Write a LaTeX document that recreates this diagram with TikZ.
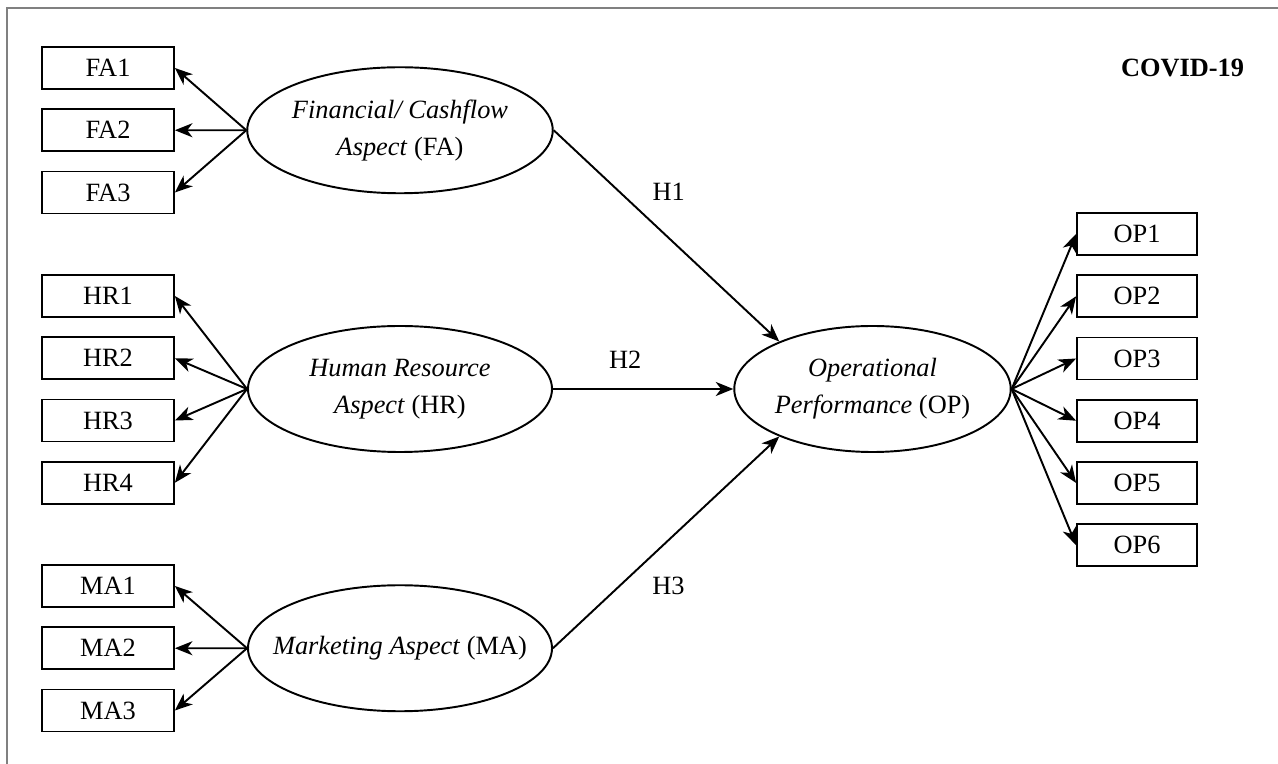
\documentclass[tikz,border=0pt]{standalone}
\usepackage{fontspec}
\setmainfont{Liberation Serif}
\usetikzlibrary{arrows.meta,positioning,shapes.geometric}

\begin{document}
\begin{tikzpicture}[>={Stealth[length=10pt,width=8pt,inset=3pt]},node distance=1.245cm,on grid,
	font=\fontsize{15}{21}\selectfont,
	ind/.style={draw,line width=1pt,minimum width=2.64cm,minimum height=0.84cm,inner sep=0pt},
	lat/.style={draw,ellipse,line width=1.1pt,minimum width=6.08cm,minimum height=2.52cm,inner sep=0pt,align=center},
	every edge/.style={draw,line width=1.1pt}]
	\useasboundingbox (0,0) rectangle (25.56,-15.28);
	\draw[gray,line width=0.9pt] (0.14,-15.28) -- (0.14,-0.16) -- (25.56,-0.16);

	\node[ind] (FA1) at (2.16,-1.36) {FA1};
	\node[ind] (FA2) [below=of FA1] {FA2};
	\node[ind] (FA3) [below=of FA2] {FA3};
	\node[lat] (FA) at (8.0,-2.605) {\textit{Financial/ Cashflow}\\\textit{Aspect} (FA)};

	\node[ind] (HR1) at (2.16,-5.92) {HR1};
	\node[ind] (HR2) [below=of HR1] {HR2};
	\node[ind] (HR3) [below=of HR2] {HR3};
	\node[ind] (HR4) [below=of HR3] {HR4};
	\node[lat] (HR) at (8.0,-7.78) {\textit{Human Resource}\\\textit{Aspect} (HR)};

	\node[ind] (MA1) at (2.16,-11.72) {MA1};
	\node[ind] (MA2) [below=of MA1] {MA2};
	\node[ind] (MA3) [below=of MA2] {MA3};
	\node[lat,inner xsep=-0.4cm] (MA) at (8.0,-12.965) {\textit{Marketing Aspect} (MA)};

	\node[lat,minimum width=5.5cm] (OP) at (17.45,-7.78) {\textit{Operational}\\\textit{Performance} (OP)};
	\node[ind,minimum width=2.4cm] (OP1) at (22.74,-4.68) {OP1};
	\node[ind,minimum width=2.4cm] (OP2) [below=of OP1] {OP2};
	\node[ind,minimum width=2.4cm] (OP3) [below=of OP2] {OP3};
	\node[ind,minimum width=2.4cm] (OP4) [below=of OP3] {OP4};
	\node[ind,minimum width=2.4cm] (OP5) [below=of OP4] {OP5};
	\node[ind,minimum width=2.4cm] (OP6) [below=of OP5] {OP6};

	\node[font=\fontsize{15}{18}\bfseries] (covid) at (23.65,-1.36) {COVID-19};

	\path[->]
	(FA.west) 	edge (FA1.east)
				edge (FA2.east)
				edge (FA3.east)
	(HR.west) 	edge (HR1.east)
				edge (HR2.east)
				edge (HR3.east)
				edge (HR4.east)
	(MA.west) 	edge (MA1.east)
				edge (MA2.east)
				edge (MA3.east)
	(OP.east) 	edge (OP1.west)
				edge (OP2.west)
				edge (OP3.west)
				edge (OP4.west)
				edge (OP5.west)
				edge (OP6.west)
	(FA.east) 	edge node[pos=0.51,yshift=0.92cm] {H1} (OP.153)
	(HR.east) 	edge node[pos=0.4,yshift=0.58cm] {H2} (OP.west)
	(MA.east) 	edge node[pos=0.51,yshift=-0.92cm] {H3} (OP.207);
\end{tikzpicture}
\end{document}
